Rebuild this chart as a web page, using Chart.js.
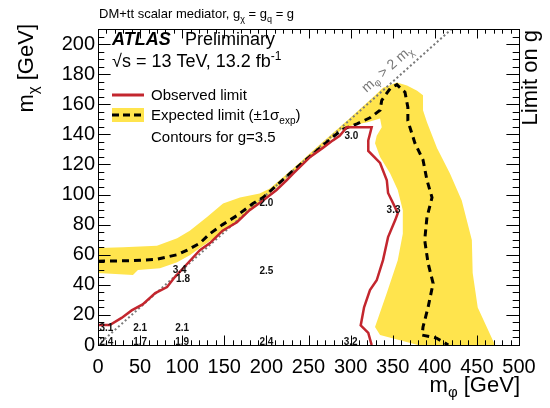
<!DOCTYPE html>
<html>
<head>
<meta charset="utf-8">
<script src="https://cdn.jsdelivr.net/npm/chart.js@4"></script>
<style>
  html, body { margin: 0; padding: 0; background: #fff; }
  canvas { display: block; }
</style>
</head>
<body>
<canvas id="chart" width="550" height="408"></canvas>
<script>
// observed limit contour (m_phi, m_chi) in GeV
const observedPhi = [0, 14, 28, 40, 53, 68, 82, 91, 106, 121, 133, 148, 165, 180, 196, 212, 224, 232, 252, 267, 279, 287, 295.5, 325, 321, 321, 335, 343, 344.5, 352.7, 356, 353, 344.5, 338.5, 331, 323, 316, 312, 321, 325];
const observedChi = [13.3, 13.3, 18, 23, 27, 34.5, 38.5, 45, 54, 63, 67.7, 76, 81.6, 89.6, 96, 103, 109.5, 114, 125, 131, 136, 139, 144.7, 144.7, 136, 129, 121, 109.5, 101, 91.6, 87.6, 83, 71.7, 56.4, 43, 36.5, 25, 13, 8, 0];

// expected limit contour
const expectedPhi = [0, 40, 70, 94, 106, 121, 133, 148, 165, 184, 196, 210, 230, 250, 270, 289.5, 307.6, 323, 335, 337, 347, 355, 364.6, 368, 368, 376.5, 386, 390.7, 396.7, 390.7, 388, 392, 398, 392, 386, 385, 402, 416];
const expectedChi = [55.7, 56, 57, 60, 63, 67.7, 74, 80, 86, 94, 98, 105, 115, 124.5, 134, 143, 147, 151, 156, 162.6, 170.5, 173, 168, 158, 149, 134, 123, 109.5, 98, 85, 69.7, 54.4, 41, 25, 12, 6.6, 4.6, 0];

// +-1 sigma band outline (closed polygon)
const bandPhi = [0, 30, 70, 94, 109, 129.5, 148.5, 168.6, 192, 204, 230, 260, 295.6, 326.6, 338.5, 355, 367, 379, 386, 386, 390.7, 402.6, 418, 432, 444, 445, 451, 471.5,
  380, 335, 329, 343, 356, 362, 362, 356, 347, 335, 329, 331, 337, 335, 320, 303, 291, 260, 230, 204,
  189, 168.6, 148.5, 124.7, 109, 94, 73.6, 47.5, 41.5, 0, 0];
const bandChi = [64.4, 65, 66, 71, 76, 85, 94, 98, 100.6, 104, 116.5, 131.5, 149, 164.6, 171, 174.5, 172.5, 169, 166, 156, 148, 131, 114, 96, 69.7, 47.8, 25, 0,
  0, 6.6, 12, 34.5, 56.4, 74, 89.6, 103, 114, 125, 134, 139, 144.7, 150.6, 148, 146, 144, 128.5, 114, 100.5,
  92.5, 84, 75, 66, 59.7, 55, 51, 49.8, 46.5, 47.8, 64.4];

// kinematic limit m_phi = 2 m_chi
const diagPhi = [0, 420];
const diagChi = [0, 210];

// limit on g at grid points
const gridLabels = ['3.1', '2.1', '2.1', '2.4', '1.7', '1.9', '2.4', '3.2', '3.4', '1.8', '2.5', '2.0', '3.0', '3.3'];
const gridPhi = [10, 50, 100, 10, 50, 100, 200, 300, 97, 101, 200, 200, 301, 351];
const gridChi = [11, 11, 11, 1.5, 1.5, 1.5, 1.8, 1.8, 49.8, 44, 49, 94, 139, 89.6];

const pts = (xs, ys) => xs.map((x, i) => ({x: x, y: ys[i]}));

const FONT = "'Liberation Sans', Arial, Helvetica, sans-serif";
const RED = '#c3262e';
const YELLOW = 'rgb(255, 228, 77)';

function rich(ctx, x, y, parts, align) {
  let w = 0;
  parts.forEach(p => { ctx.font = (p[3] || '') + ' ' + p[1] + 'px ' + FONT; w += ctx.measureText(p[0]).width; });
  let cx = align === 'right' ? x - w : x;
  parts.forEach(p => {
    ctx.font = (p[3] || '') + ' ' + p[1] + 'px ' + FONT;
    ctx.fillText(p[0], cx, y + (p[2] || 0));
    cx += ctx.measureText(p[0]).width;
  });
}

const decor = {
  id: 'decor',
  afterDraw(chart) {
    const ctx = chart.ctx;
    const a = chart.chartArea;
    const xs = chart.scales.x, ys = chart.scales.y;
    ctx.save();
    ctx.strokeStyle = '#000';
    ctx.fillStyle = '#000';
    ctx.lineWidth = 1;
    ctx.setLineDash([]);

    // ticks inside the frame
    ctx.beginPath();
    for (let v = 0; v <= 500; v += 10) {
      const px = Math.round(xs.getPixelForValue(v)) + 0.5;
      const len = v % 50 === 0 ? 9.5 : 4.7;
      ctx.moveTo(px, a.bottom); ctx.lineTo(px, a.bottom - len);
      ctx.moveTo(px, a.top); ctx.lineTo(px, a.top + len);
    }
    for (let v = 0; v <= 210; v += 5) {
      const py = Math.round(ys.getPixelForValue(v)) + 0.5;
      const len = v % 20 === 0 ? 12.6 : 6.3;
      ctx.moveTo(a.left, py); ctx.lineTo(a.left + len, py);
      ctx.moveTo(a.right, py); ctx.lineTo(a.right - len, py);
    }
    ctx.stroke();
    ctx.strokeRect(Math.round(a.left) + 0.5, Math.round(a.top) + 0.5, Math.round(a.right - a.left), Math.round(a.bottom - a.top));

    // grid point values
    ctx.font = 'bold 10px ' + FONT;
    ctx.textAlign = 'center';
    ctx.textBaseline = 'middle';
    ctx.fillStyle = '#111';
    gridLabels.forEach((t, i) => {
      ctx.fillText(t, xs.getPixelForValue(gridPhi[i]), ys.getPixelForValue(gridChi[i]));
    });

    ctx.textAlign = 'left';
    ctx.textBaseline = 'alphabetic';
    ctx.fillStyle = '#000';

    // header
    rich(ctx, 99, 18, [['DM+tt scalar mediator, g', 13], ['\u03c7', 9, 4], [' = g', 13], ['q', 9, 4], [' = g', 13]]);
    ctx.font = 'bold italic 18px ' + FONT;
    ctx.fillText('ATLAS', 112, 45);
    ctx.font = '18px ' + FONT;
    ctx.fillText('Preliminary', 185, 45);
    rich(ctx, 112, 67, [['\u221as = 13 TeV, 13.2 fb', 18], ['-1', 12, -7]]);

    // legend
    ctx.strokeStyle = RED;
    ctx.lineWidth = 3;
    ctx.beginPath(); ctx.moveTo(112, 95); ctx.lineTo(144, 95); ctx.stroke();
    ctx.fillStyle = YELLOW;
    ctx.fillRect(112, 108, 32, 14);
    ctx.strokeStyle = '#000';
    ctx.setLineDash([7, 4]);
    ctx.beginPath(); ctx.moveTo(112, 115); ctx.lineTo(144, 115); ctx.stroke();
    ctx.setLineDash([]);
    ctx.fillStyle = '#000';
    ctx.font = '15px ' + FONT;
    ctx.fillText('Observed limit', 151, 100);
    rich(ctx, 151, 120, [['Expected limit (\u00b11\u03c3', 15], ['exp', 10, 4], [')', 15]]);
    ctx.font = '15px ' + FONT;
    ctx.fillText('Contours for g=3.5', 151, 142);

    // axis titles
    rich(ctx, 520, 392, [['m', 22], ['\u03c6', 15, 5], [' [GeV]', 22]], 'right');
    ctx.save();
    ctx.translate(33, 24);
    ctx.rotate(-Math.PI / 2);
    rich(ctx, 0, 0, [['m', 22], ['\u03c7', 15, 5], [' [GeV]', 22]], 'right');
    ctx.restore();
    ctx.save();
    ctx.translate(537, 30);
    ctx.rotate(-Math.PI / 2);
    rich(ctx, 0, 0, [['Limit on g', 22]], 'right');
    ctx.restore();

    // label of the kinematic line
    const x0 = xs.getPixelForValue(326), y0 = ys.getPixelForValue(163);
    const x1 = xs.getPixelForValue(400), y1 = ys.getPixelForValue(200);
    const ang = Math.atan2(y1 - y0, x1 - x0);
    ctx.save();
    ctx.translate(x0 + 9 * Math.sin(ang), y0 - 9 * Math.cos(ang));
    ctx.rotate(ang);
    ctx.fillStyle = '#777';
    rich(ctx, 0, 0, [['m', 14], ['\u03c6', 10, 3], [' > 2 m', 14], ['\u03c7', 10, 3]]);
    ctx.restore();

    ctx.restore();
  }
};

new Chart(document.getElementById('chart'), {
  type: 'scatter',
  data: {
    datasets: [{
      label: 'Observed limit',
      data: pts(observedPhi, observedChi),
      showLine: true,
      borderColor: RED,
      borderWidth: 2.5,
      pointRadius: 0,
      fill: false,
      order: 1
    }, {
      label: 'Expected limit',
      data: pts(expectedPhi, expectedChi),
      showLine: true,
      borderColor: '#000',
      borderWidth: 3,
      borderDash: [7, 5],
      pointRadius: 0,
      fill: false,
      order: 2
    }, {
      label: 'm_phi > 2 m_chi',
      data: pts(diagPhi, diagChi),
      showLine: true,
      borderColor: '#7a7a7a',
      borderWidth: 2,
      borderDash: [2, 2.5],
      pointRadius: 0,
      fill: false,
      order: 3
    }, {
      label: '1 sigma',
      data: pts(bandPhi, bandChi),
      showLine: true,
      borderWidth: 0,
      borderColor: 'rgba(0,0,0,0)',
      backgroundColor: YELLOW,
      pointRadius: 0,
      fill: 'shape',
      order: 4
    }]
  },
  options: {
    responsive: false,
    animation: false,
    devicePixelRatio: 1,
    layout: { padding: { top: 29, right: 31, left: 0, bottom: 0 } },
    plugins: {
      legend: { display: false },
      tooltip: { enabled: false }
    },
    scales: {
      x: {
        type: 'linear',
        min: 0,
        max: 500,
        grid: { display: false, drawTicks: false },
        border: { display: false },
        ticks: {
          stepSize: 50,
          autoSkip: false,
          maxRotation: 0,
          padding: 10,
          color: '#000',
          font: { family: FONT, size: 20 }
        },
        afterFit(s) { s.height = 63; }
      },
      y: {
        min: 0,
        max: 210,
        grid: { display: false, drawTicks: false },
        border: { display: false },
        ticks: {
          stepSize: 20,
          includeBounds: false,
          padding: 3,
          color: '#000',
          font: { family: FONT, size: 20 }
        },
        afterFit(s) { s.width = 98; }
      }
    }
  },
  plugins: [decor]
});
</script>
</body>
</html>
